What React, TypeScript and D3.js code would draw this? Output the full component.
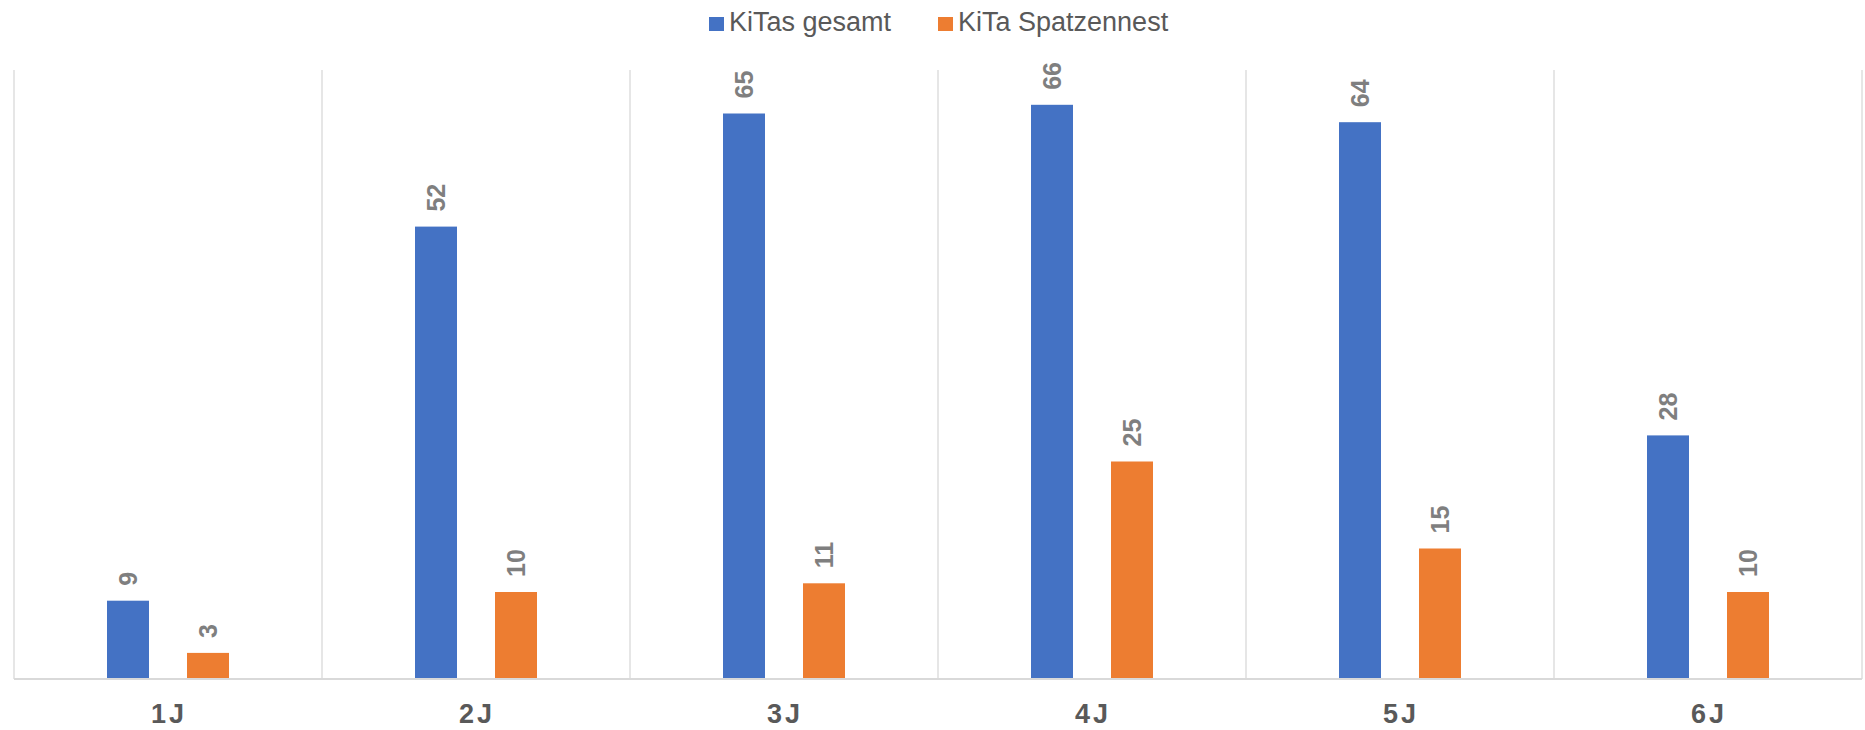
import React from "react";
import * as d3 from "d3";

const categories = ["1J", "2J", "3J", "4J", "5J", "6J"];
const seriesNames = ["KiTas gesamt", "KiTa Spatzennest"];
const kitasGesamt = [9, 52, 65, 66, 64, 28];
const kitaSpatzennest = [3, 10, 11, 25, 15, 10];
const colors = ["#4472C4", "#ED7D31"];

const W = 1865;
const H = 730;
const left = 14;
const right = 1862;
const top = 70;
const bottom = 679;

export default function App() {
  const x = d3.scaleBand<string>().domain(categories).range([left, right]).padding(0);
  const y = d3.scaleLinear().domain([0, 70]).range([bottom, top]);
  const sub = d3.scalePoint<string>().domain(seriesNames).range([-40, 40]);
  const barW = 42;
  const series = [kitasGesamt, kitaSpatzennest];
  const boundaries = [...categories.map((c) => x(c) as number), right];
  const font = "'Liberation Sans', Arial, sans-serif";

  return (
    <div style={{ position: "absolute", left: 0, top: 0 }}>
      <svg width={W} height={H} style={{ display: "block", background: "#fff" }}>
        {boundaries.map((bx, i) => (
          <line key={i} x1={bx} x2={bx} y1={top} y2={bottom} stroke="#D9D9D9" strokeWidth={1.3} />
        ))}
        {series.map((vals, si) =>
          vals.map((v, ci) => {
            const cx = (x(categories[ci]) as number) + x.bandwidth() / 2 + (sub(seriesNames[si]) as number);
            return (
              <g key={`${si}-${ci}`}>
                <rect x={cx - barW / 2} y={y(v)} width={barW} height={y(0) - y(v)} fill={colors[si]} />
                <text
                  transform={`translate(${cx},${y(v) - 15}) rotate(-90)`}
                  dy="0.36em"
                  fontFamily={font}
                  fontWeight="bold"
                  fontSize={25}
                  fill="#7F7F7F"
                  textAnchor="start"
                >
                  {v}
                </text>
              </g>
            );
          })
        )}
        <line x1={left} x2={right} y1={bottom} y2={bottom} stroke="#D9D9D9" strokeWidth={2} />
        {categories.map((c) => (
          <text
            key={c}
            x={(x(c) as number) + x.bandwidth() / 2 + 1}
            y={723}
            textAnchor="middle"
            fontFamily={font}
            fontWeight="bold"
            fontSize={27}
            fill="#595959"
            letterSpacing={3}
          >
            {c}
          </text>
        ))}
        <g>
          <rect x={709} y={17} width={15} height={14} fill={colors[0]} />
          <text x={729} y={31} fontFamily={font} fontSize={27} fill="#595959">
            {seriesNames[0]}
          </text>
          <rect x={938} y={17} width={15} height={14} fill={colors[1]} />
          <text x={958} y={31} fontFamily={font} fontSize={27} fill="#595959">
            {seriesNames[1]}
          </text>
        </g>
      </svg>
    </div>
  );
}
